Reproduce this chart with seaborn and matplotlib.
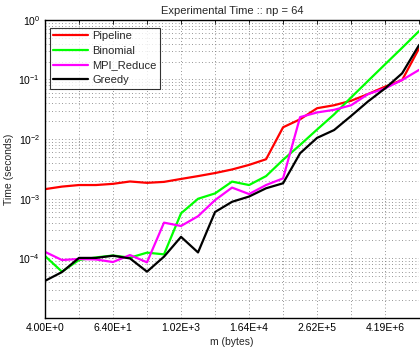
import numpy as np
import pandas as pd
import seaborn as sns
from matplotlib import pyplot as plt
from matplotlib import ticker

# message sizes: 2^2 .. 2^24 bytes
m_bytes = [2 ** k for k in range(2, 25)]

pipeline = [1.45e-3, 1.6e-3, 1.7e-3, 1.7e-3, 1.78e-3, 1.95e-3, 1.85e-3, 1.92e-3,
            2.15e-3, 2.4e-3, 2.7e-3, 3.1e-3, 3.7e-3, 4.6e-3, 1.58e-2, 2.15e-2,
            3.3e-2, 3.7e-2, 4.4e-2, 5.7e-2, 7.6e-2, 9.8e-2, 3.35e-1]
binomial = [1.1e-4, 6.0e-5, 9.4e-5, 1.04e-4, 1.12e-4, 1.03e-4, 1.25e-4, 1.17e-4,
            5.7e-4, 1.0e-3, 1.23e-3, 1.94e-3, 1.7e-3, 2.4e-3, 4.5e-3, 8.0e-3,
            1.45e-2, 2.6e-2, 5.0e-2, 9.5e-2, 1.8e-1, 3.4e-1, 6.5e-1]
mpi_reduce = [1.29e-4, 9.4e-5, 9.8e-5, 9.6e-5, 8.7e-5, 1.14e-4, 8.6e-5, 3.98e-4,
              3.5e-4, 5.1e-4, 9.5e-4, 1.54e-3, 1.2e-3, 1.7e-3, 2.2e-3, 2.34e-2,
              2.8e-2, 3.1e-2, 3.7e-2, 5.7e-2, 7.1e-2, 9.8e-2, 1.45e-1]
greedy = [4.2e-5, 5.9e-5, 1.02e-4, 1.02e-4, 1.11e-4, 1.0e-4, 6.0e-5, 1.07e-4,
          2.3e-4, 1.26e-4, 6.0e-4, 8.9e-4, 1.09e-3, 1.5e-3, 1.82e-3, 5.8e-3,
          1.05e-2, 1.42e-2, 2.45e-2, 4.3e-2, 7.1e-2, 1.27e-1, 3.8e-1]

methods = ['Pipeline', 'Binomial', 'MPI_Reduce', 'Greedy']
colors = ['#ff0000', '#00ff00', '#ff00ff', '#000000']

frames = []
for name, vals in zip(methods, [pipeline, binomial, mpi_reduce, greedy]):
    frames.append(pd.DataFrame({'m': m_bytes, 'time': vals, 'method': name}))
data = pd.concat(frames, ignore_index=True)

sns.set_style('white')
plt.rcParams['font.family'] = ['Liberation Sans', 'DejaVu Sans']
plt.rcParams['mathtext.fontset'] = 'custom'
plt.rcParams['mathtext.rm'] = 'Liberation Sans'
plt.rcParams['mathtext.it'] = 'Liberation Sans:italic'

fig = plt.figure(figsize=(4.2, 3.48), dpi=100)
ax = fig.add_axes([0.107, 0.086, 0.891, 0.857])

sns.lineplot(data=data, x='m', y='time', hue='method', palette=colors,
             hue_order=methods, linewidth=1.6, ax=ax)

ax.set_xscale('log', base=2)
ax.set_yscale('log')
ax.set_xlim(4, 2 ** 24)
ax.set_ylim(1e-5, 1)

xt = [4 ** k for k in range(1, 13)]
ax.set_xticks(xt)


def sci_fmt(v, pos):
    k = int(np.log2(v))
    if (k - 2) % 4 != 0:
        return ''
    e = int(np.floor(np.log10(v)))
    return '%.2fE+%d' % (v / 10 ** e, e)


ax.xaxis.set_major_formatter(ticker.FuncFormatter(sci_fmt))
ax.xaxis.set_minor_locator(ticker.NullLocator())
ax.yaxis.set_major_locator(ticker.LogLocator(base=10, numticks=10))
ax.yaxis.set_minor_locator(ticker.LogLocator(base=10, subs=np.arange(2, 10), numticks=10))


def y_fmt(v, pos):
    e = int(round(np.log10(v)))
    if e <= -5:
        return ''
    return '$10^{%d}$' % e


ax.yaxis.set_major_formatter(ticker.FuncFormatter(y_fmt))

dots = (0, (1, 3))
ax.grid(True, which='major', axis='both', linestyle=dots, color='0.45', linewidth=0.6)
ax.grid(True, which='minor', axis='y', linestyle=dots, color='0.45', linewidth=0.6)

ax.tick_params(which='both', direction='in', top=True, right=False, labelsize=7.5,
               length=3, width=0.6, colors='black')
ax.tick_params(which='minor', length=1.5)
for side in ['left', 'bottom', 'top']:
    ax.spines[side].set_color('black')
    ax.spines[side].set_linewidth(1.0)
ax.spines['right'].set_visible(False)

ax.set_title('Experimental Time :: np = 64', fontsize=8, pad=4)
ax.set_xlabel('m (bytes)', fontsize=7.5, labelpad=3)
ax.set_ylabel('Time (seconds)', fontsize=7.5, labelpad=3)

leg = ax.legend(loc='upper left', bbox_to_anchor=(0.013, 0.973), fontsize=8,
                frameon=True, fancybox=False, borderaxespad=0, handlelength=3.1,
                labelspacing=0.42, borderpad=0.3, handletextpad=0.4)
leg.get_frame().set_edgecolor('black')
leg.get_frame().set_linewidth(0.8)
for line in leg.get_lines():
    line.set_linewidth(1.6)

fig.savefig('out.png', dpi=100)
